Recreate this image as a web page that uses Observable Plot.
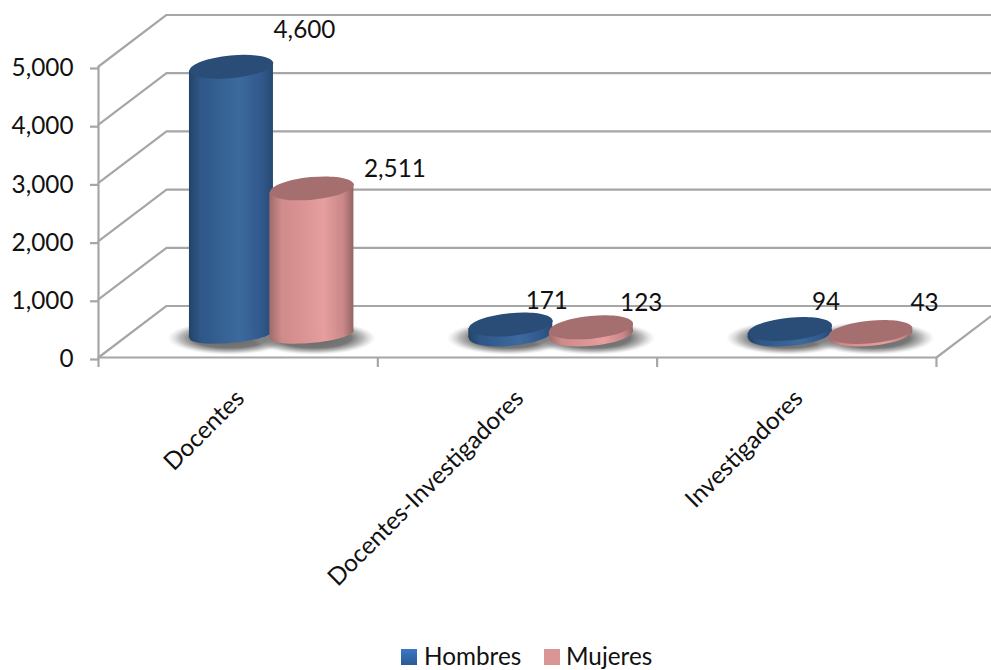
<!DOCTYPE html>
<html><head><meta charset="utf-8">
<script src="https://cdn.jsdelivr.net/npm/d3@7"></script>
<script src="https://cdn.jsdelivr.net/npm/@observablehq/plot@0.6"></script>
<style>
html,body{margin:0;padding:0;background:#fff;overflow:hidden}
#chart svg{display:block;overflow:hidden}
#legend{position:relative;height:28px;font:24.3px Lato,sans-serif;color:#111;line-height:28px}
#legend span{position:absolute;top:0;white-space:nowrap}
#legend i{position:absolute;top:7px;width:16px;height:16px;display:block}
</style></head><body>
<div id="chart"></div>
<div id="legend">
<i style="left:401px;background:linear-gradient(#3b78c4,#2b5a94)"></i><span style="left:424px">Hombres</span>
<i style="left:544px;background:#da9694"></i><span style="left:566px">Mujeres</span>
</div>
<script>
// Data
const categories = ["Docentes", "Docentes-Investigadores", "Investigadores"];
const hombres = [4600, 171, 94];
const mujeres = [2511, 123, 43];
const yTicks = [0, 1000, 2000, 3000, 4000, 5000];

// 3D layout, in scale units
const depthX = 0.2435, depthY = 885, xMax = 3.197;
const groupStart = 0.62, radius = 42;
const barOffset = 0.144, baseLift = 395, tilt = 69, pxPerCat = 279.3;
const baseRatio = [0.2, 0.27, 0.27];
const labelNudge = {
  Hombres: [[73, -37], [36, -23], [36, -27]],
  Mujeres: [[83, -19], [50, -24], [54, -29]]
};

const series = [
  {name: "Hombres", values: hombres, side: -1, body: "url(#gHombres)", cap: "#2a4d78"},
  {name: "Mujeres", values: mujeres, side: 1, body: "url(#gMujeres)", cap: "#a66f6f"}
];
const bars = series.flatMap(s => s.values.map((v, i) => ({
  id: s.name + i, series: s, group: i, value: v,
  cx: i + groupStart + s.side * barOffset,
  half: radius / pxPerCat,
  top: baseLift + v
})));

// Flat elliptical symbol, drawn by Plot.dot
const K = 0.5523;
const ellipse = ratio => ({draw(c, size) {
  const a = Math.sqrt(size / Math.PI), b = a * ratio;
  c.moveTo(-a, 0);
  c.bezierCurveTo(-a, -b * K, -a * K, -b, 0, -b);
  c.bezierCurveTo(a * K, -b, a, -b * K, a, 0);
  c.bezierCurveTo(a, b * K, a * K, b, 0, b);
  c.bezierCurveTo(-a * K, b, -a, b * K, -a, 0);
  c.closePath();
}});

function defs() {
  const d = d3.create("svg:defs");
  const grad = (id, stops) => {
    const g = d.append("linearGradient").attr("id", id).attr("x1", 0).attr("x2", 1).attr("y1", 0).attr("y2", 0);
    stops.forEach(([o, c]) => g.append("stop").attr("offset", o).attr("stop-color", c));
  };
  grad("gHombres", [[0, "#234467"], [.14, "#2f5788"], [.6, "#3c6a9e"], [.88, "#30578a"], [1, "#274a72"]]);
  grad("gMujeres", [[0, "#a06c6c"], [.14, "#cf8a8a"], [.65, "#e69e9e"], [.88, "#c98787"], [1, "#946464"]]);
  const r = d.append("radialGradient").attr("id", "shadow");
  [[0, "#666", 1], [.6, "#777", 1], [.8, "#888", .55], [1, "#bbb", 0]].forEach(([o, c, a]) =>
    r.append("stop").attr("offset", o).attr("stop-color", c).attr("stop-opacity", a));
  return d.node();
}

const gridRows = yTicks.flatMap(v => [
  {v, x: 0, y: v},
  {v, x: depthX, y: v + depthY},
  {v, x: xMax, y: v + depthY}
]);
const gridColor = "#a6a6a6", lineW = 2.2;
const labelFont = {fontFamily: "Lato, sans-serif", fontSize: 24.3, fill: "#111"};

const plot = Plot.plot({
  width: 991, height: 642,
  marginLeft: 98, marginRight: 0, marginTop: 0, marginBottom: 285,
  style: {background: "#fff"},
  x: {type: "linear", domain: [0, xMax], range: [98, 991], axis: null},
  y: {type: "linear", domain: [0, 5000], range: [357, 66], axis: null},
  marks: [
    defs,
    Plot.line(gridRows, {x: "x", y: "y", z: "v", stroke: gridColor, strokeWidth: lineW}),
    Plot.line([{x: 3, y: 0}, {x: xMax, y: depthY * (xMax - 3) / depthX}], {x: "x", y: "y", stroke: gridColor, strokeWidth: lineW}),
    Plot.ruleX([0], {y1: 0, y2: 5000, stroke: gridColor, strokeWidth: lineW}),
    Plot.ruleY([0], {x1: 0, x2: 3, stroke: gridColor, strokeWidth: lineW}),
    Plot.axisY({anchor: "left", ticks: yTicks, tickSize: 8, tickPadding: 17, dy: 2, tickFormat: d3.format(","), stroke: gridColor, strokeWidth: lineW, strokeOpacity: 1, ...labelFont, textStroke: "none"}),
    Plot.axisX({anchor: "bottom", ticks: [0, 1, 2, 3], tickSize: 10, tickFormat: () => "", stroke: gridColor, strokeWidth: lineW, strokeOpacity: 1}),
    // floor shadows
    ...bars.map(b => Plot.dot([b], {x: "cx", y: () => baseLift - 60, dx: b.series.side * 2, r: radius + 20, symbol: ellipse(0.27), fill: "url(#shadow)", stroke: "none"})),
    // cylinders
    ...bars.flatMap(b => [
      Plot.dot([b], {x: "cx", y: () => baseLift, r: radius, symbol: ellipse(baseRatio[b.group]), rotate: -5.5, fill: b.series.body, stroke: "none"}),
      Plot.area([
        {x: b.cx - b.half, lo: baseLift - tilt, hi: b.top - tilt},
        {x: b.cx + b.half, lo: baseLift + tilt, hi: b.top + tilt}
      ], {x1: "x", y1: "lo", y2: "hi", fill: b.series.body}),
      Plot.dot([b], {x: "cx", y: "top", r: radius, symbol: ellipse(0.27), rotate: -5.5, fill: b.series.cap, stroke: "none"})
    ]),
    // value labels
    ...bars.map(b => {
      const [dx, dy] = labelNudge[b.series.name][b.group];
      return Plot.text([b], {x: "cx", y: "top", text: d => d3.format(",")(d.value), dx, dy, ...labelFont});
    }),
    // category labels
    Plot.text(categories, {x: (d, i) => i + 0.5, y: () => -600, text: d => d, rotate: -45, textAnchor: "end", dx: 2, dy: 2, ...labelFont})
  ]
});
document.getElementById("chart").append(plot);
</script>
</body></html>
